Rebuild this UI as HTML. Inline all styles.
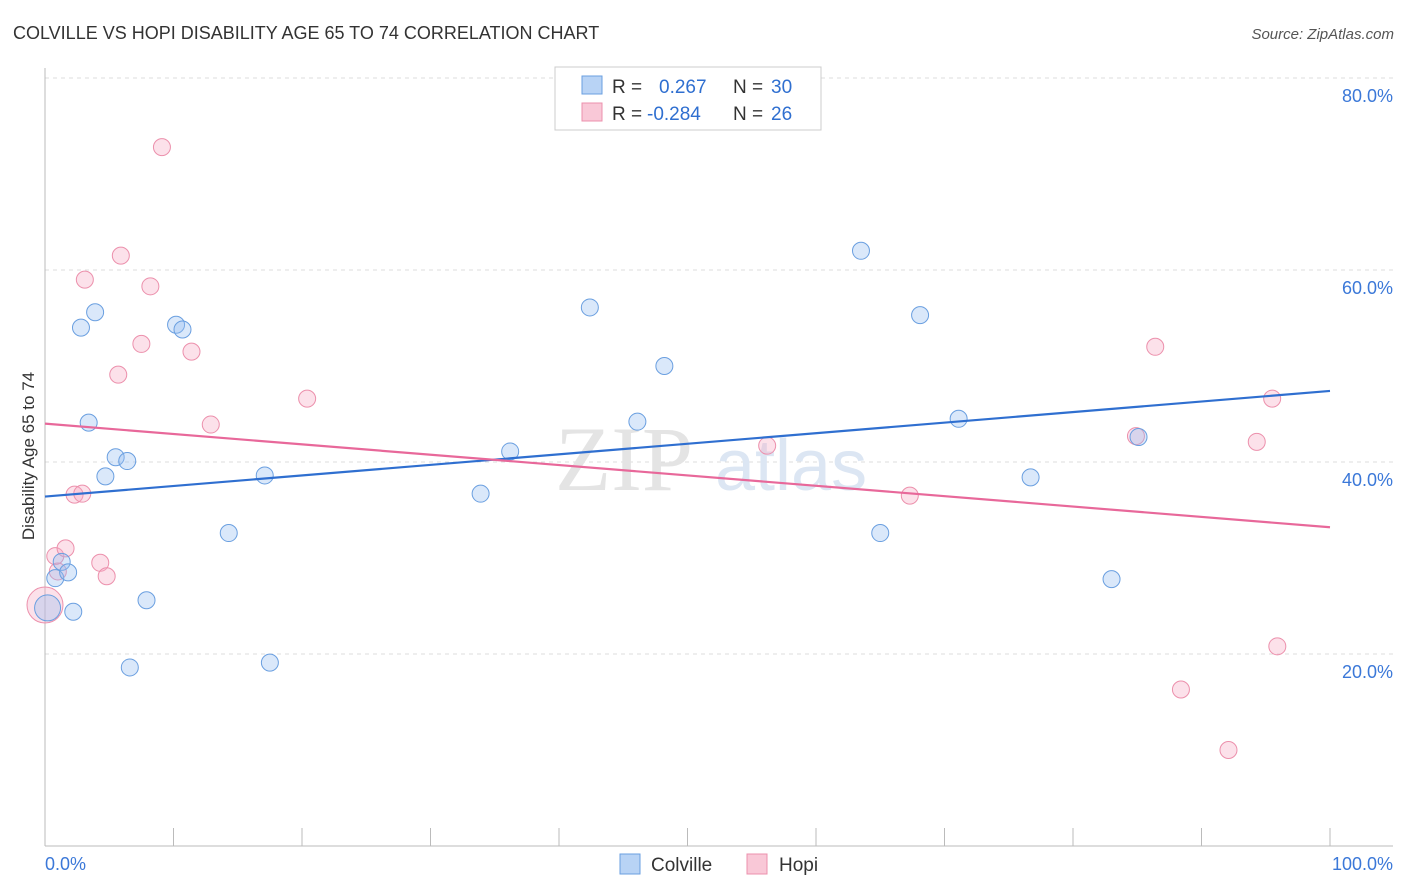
<!DOCTYPE html>
<html><head><meta charset="utf-8">
<style>
body{margin:0;background:#fff;font-family:"Liberation Sans",sans-serif;}
svg{display:block}
</style></head>
<body>
<svg id="chart" width="1406" height="892">
<text x="13" y="39" font-size="18" fill="#333">COLVILLE VS HOPI DISABILITY AGE 65 TO 74 CORRELATION CHART</text>
<text x="1394" y="39" font-size="15" fill="#555" font-style="italic" text-anchor="end">Source: ZipAtlas.com</text>
<text x="34" y="456" font-size="17" fill="#333" text-anchor="middle" transform="rotate(-90 34 456)">Disability Age 65 to 74</text>
<g id="grid"></g>
<text x="555" y="490" font-size="92" fill="#e4e4e4" font-family="Liberation Serif,serif">ZIP</text>
<text x="715" y="490" font-size="72" fill="#dce6f3">atlas</text>
<g id="pts"></g>
<g id="lines"></g>
<g>
<rect x="555" y="67" width="266" height="63" fill="#fff" stroke="#ccc"/>
<rect x="582" y="76" width="20" height="18" fill="#b8d3f5" stroke="#6a9fe0"/>
<rect x="582" y="103" width="20" height="18" fill="#f9c8d7" stroke="#ec90ac"/>
<text x="612" y="93" font-size="19" fill="#333">R = <tspan fill="#2f6fd0" x="659">0.267</tspan><tspan fill="#333" x="733">N =</tspan><tspan fill="#2f6fd0" x="771">30</tspan></text>
<text x="612" y="120" font-size="19" fill="#333">R = <tspan fill="#2f6fd0" x="647">-0.284</tspan><tspan fill="#333" x="733">N =</tspan><tspan fill="#2f6fd0" x="771">26</tspan></text>
</g>
<g>
<rect x="620" y="854" width="20" height="20" fill="#b8d3f5" stroke="#6a9fe0"/>
<text x="651" y="871" font-size="19" fill="#333">Colville</text>
<rect x="747" y="854" width="20" height="20" fill="#f9c8d7" stroke="#ec90ac"/>
<text x="779" y="871" font-size="19" fill="#333">Hopi</text>
</g>
</svg>
<script>
const yTicks=[20,40,60,80];
const xTickLabels=["0.0%","100.0%"];
const colvilleX=[0.2,0.8,1.3,1.8,2.2,2.8,3.4,3.9,4.7,5.5,6.4,6.6,7.9,10.2,10.7,14.3,17.1,17.5,33.9,36.2,42.4,46.1,48.2,63.5,65.0,68.1,71.1,76.7,83.0,85.1];
const colvilleY=[24.8,27.9,29.6,28.5,24.4,54.0,44.1,55.6,38.5,40.5,40.1,18.6,25.6,54.3,53.8,32.6,38.6,19.1,36.7,41.1,56.1,44.2,50.0,62.0,32.6,55.3,44.5,38.4,27.8,42.6];
const hopiX=[0,0.8,1.6,2.3,2.9,3.1,4.3,4.8,5.7,5.9,7.5,8.2,9.1,11.4,12.9,20.4,56.2,67.3,84.9,86.4,88.4,92.1,94.3,95.5,95.9,1.0];
const hopiY=[25.1,30.2,31.0,36.6,36.7,59.0,29.5,28.1,49.1,61.5,52.3,58.3,72.8,51.5,43.9,46.6,41.7,36.5,42.7,52.0,16.3,10.0,42.1,46.6,20.8,28.6];
const colvilleTrend=[36.4,47.4];
const hopiTrend=[44.0,33.2];
const NS="http://www.w3.org/2000/svg";
const X=p=>45+p*12.85, Y=v=>846-v*9.6;
function mk(t,a,parent){const e=document.createElementNS(NS,t);for(const k in a)e.setAttribute(k,a[k]);parent.appendChild(e);return e;}
const grid=document.getElementById('grid');
yTicks.forEach(v=>{
 const l=mk('line',{x1:45,x2:1393,y1:Y(v),y2:Y(v),stroke:'#ddd','stroke-dasharray':'4,4'},grid);
 
 
 const t=mk('text',{x:1393,y:Y(v)+24,'font-size':18,fill:'#3b78d8','text-anchor':'end'},grid);
 t.textContent=v.toFixed(1)+'%';
 
 
});
const ax=mk('line',{x1:45,x2:1393,y1:846,y2:846,stroke:'#bbb'},grid);


const ay=mk('line',{x1:45,x2:45,y1:68,y2:846,stroke:'#bbb'},grid);


for(let i=0;i<=10;i++){
 const l=mk('line',{x1:X(i*10),x2:X(i*10),y1:828,y2:846,stroke:'#bbb'},grid);
 
 
}
const t0=mk('text',{x:45,y:870,'font-size':18,fill:'#3b78d8'},grid);t0.textContent=xTickLabels[0];


const t1=mk('text',{x:1393,y:870,'font-size':18,fill:'#3b78d8','text-anchor':'end'},grid);t1.textContent=xTickLabels[1];


const pts=document.getElementById('pts');
hopiX.forEach((x,i)=>{
 const c=mk('circle',{cx:X(x),cy:Y(hopiY[i]),r:i===0?18:8.5,fill:'rgba(246,170,195,0.35)',stroke:'#ec90ac','stroke-width':1},pts);
 
 
});
colvilleX.forEach((x,i)=>{
 const c=mk('circle',{cx:X(x),cy:Y(colvilleY[i]),r:i===0?13:8.5,fill:'rgba(150,190,240,0.35)',stroke:'#6a9fe0','stroke-width':1},pts);
 
 
});
const lines=document.getElementById('lines');
const lb=mk('line',{x1:X(0),x2:X(100),y1:Y(colvilleTrend[0]),y2:Y(colvilleTrend[1]),stroke:'#2f6fd0','stroke-width':2.2},lines);


const lp=mk('line',{x1:X(0),x2:X(100),y1:Y(hopiTrend[0]),y2:Y(hopiTrend[1]),stroke:'#e8689a','stroke-width':2.2},lines);


</script>
</body></html>
